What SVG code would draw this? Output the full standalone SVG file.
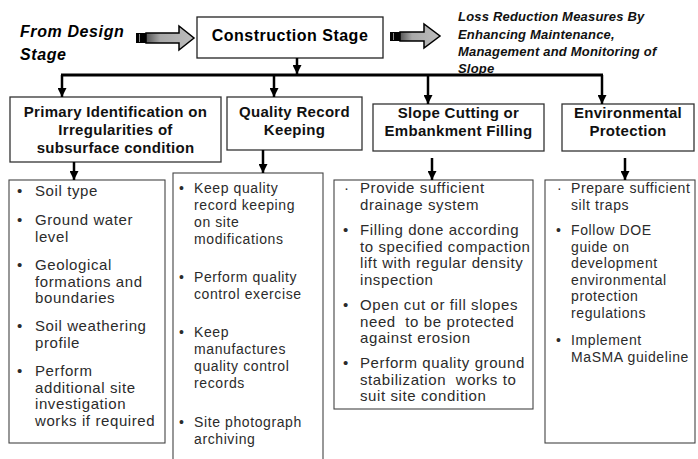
<svg xmlns="http://www.w3.org/2000/svg" width="698" height="459" viewBox="0 0 698 459">
<style>
text{font-family:"Liberation Sans",Arial,sans-serif;fill:#000}
.hdr{font-size:16px;font-weight:bold;font-style:italic;letter-spacing:0.6px}
.loss{font-size:13px;font-weight:bold;font-style:italic;letter-spacing:0.2px;fill:#111}
.main{font-size:16px;font-weight:bold;letter-spacing:0.5px}
.l2{font-size:15px;font-weight:bold;letter-spacing:0.3px;text-anchor:middle;fill:#111}
.b15 text{font-size:15px;letter-spacing:0.6px;fill:#2b2b2b}
.b14 text{font-size:14px;letter-spacing:0.6px;fill:#2b2b2b}
.box2{fill:#fff;stroke:#333;stroke-width:1.3}
.box3{fill:#fff;stroke:#444;stroke-width:1.1}
.conn line{stroke:#000;stroke-width:2.5}
</style>
<defs>
<marker id="ah" viewBox="0 0 10 10" refX="10" refY="5" markerWidth="9" markerHeight="9" markerUnits="userSpaceOnUse" orient="auto">
<path d="M0,0 L10,5 L0,10 z" fill="#000"/>
</marker>
<linearGradient id="gr" x1="0" y1="0" x2="1" y2="0">
<stop offset="0" stop-color="#555"/>
<stop offset="0.3" stop-color="#a8a8a8"/>
<stop offset="1" stop-color="#bdbdbd"/>
</linearGradient>
</defs>
<rect width="698" height="459" fill="#fff"/>

<g id="from-design">
<text class="hdr" x="20" y="37">From Design</text>
<text class="hdr" x="20" y="60">Stage</text>
</g>

<g id="block-arrow-left">
<path d="M146,33 L179,33 L179,26 L194,38 L179,50 L179,43 L146,43 z" fill="url(#gr)" stroke="#000" stroke-width="1.5"/>
<rect x="136" y="33" width="10" height="10" fill="#000"/>
<line x1="139.5" y1="34" x2="139.5" y2="42" stroke="#888" stroke-width="1"/>
</g>

<g id="construction">
<rect x="197" y="17" width="186" height="41" fill="#fff" stroke="#222" stroke-width="1.3"/>
<text class="main" x="290" y="41" text-anchor="middle">Construction Stage</text>
</g>

<g id="block-arrow-right">
<path d="M400,32 L424,32 L424,24 L440,36 L424,48 L424,41 L400,41 z" fill="url(#gr)" stroke="#000" stroke-width="1.5"/>
<rect x="390" y="32" width="10" height="9" fill="#000"/>
<line x1="393.5" y1="33" x2="393.5" y2="40" stroke="#888" stroke-width="1"/>
</g>

<g id="loss-reduction">
<text class="loss" x="458" y="21">Loss Reduction Measures By</text>
<text class="loss" x="458" y="38.5">Enhancing Maintenance,</text>
<text class="loss" x="458" y="56">Management and Monitoring of</text>
<text class="loss" x="458" y="72.5">Slope</text>
</g>

<g id="primary">
<rect class="box2" x="10" y="97" width="211" height="65"/>
<text class="l2" x="115.5" y="117">Primary Identification on</text>
<text class="l2" x="115.5" y="135">Irregularities of</text>
<text class="l2" x="115.5" y="153">subsurface condition</text>
</g>

<g id="quality">
<rect class="box2" x="227" y="97" width="135" height="53"/>
<text class="l2" x="294.5" y="117">Quality Record</text>
<text class="l2" x="294.5" y="135">Keeping</text>
</g>

<g id="slope">
<rect class="box2" x="373" y="104" width="171" height="47"/>
<text class="l2" x="458.5" y="118">Slope Cutting or</text>
<text class="l2" x="458.5" y="136">Embankment Filling</text>
</g>

<g id="environment">
<rect class="box2" x="562" y="104" width="132" height="47"/>
<text class="l2" x="628" y="118">Environmental</text>
<text class="l2" x="628" y="136">Protection</text>
</g>

<g id="list-primary">
<rect class="box3" x="9" y="180" width="156" height="263"/>
<g class="b15">
<text x="17" y="196">•</text><text x="35" y="196">Soil type</text>
<text x="17" y="225">•</text><text x="35" y="225">Ground water</text>
<text x="35" y="241.5">level</text>
<text x="17" y="270">•</text><text x="35" y="270">Geological</text>
<text x="35" y="286.5">formations and</text>
<text x="35" y="303">boundaries</text>
<text x="17" y="331">•</text><text x="35" y="331">Soil weathering</text>
<text x="35" y="347.5">profile</text>
<text x="17" y="376">•</text><text x="35" y="376">Perform</text>
<text x="35" y="392.5">additional site</text>
<text x="35" y="409">investigation</text>
<text x="35" y="425.5">works if required</text>
</g>
</g>

<g id="list-quality">
<rect class="box3" x="173" y="173" width="150" height="300"/>
<g class="b14">
<text x="179" y="193">•</text><text x="194" y="193">Keep quality</text>
<text x="194" y="210">record keeping</text>
<text x="194" y="227">on site</text>
<text x="194" y="244">modifications</text>
<text x="179" y="282">•</text><text x="194" y="282">Perform quality</text>
<text x="194" y="299">control exercise</text>
<text x="179" y="337">•</text><text x="194" y="337">Keep</text>
<text x="194" y="354">manufactures</text>
<text x="194" y="371">quality control</text>
<text x="194" y="388">records</text>
<text x="179" y="427">•</text><text x="194" y="427">Site photograph</text>
<text x="194" y="444">archiving</text>
</g>
</g>

<g id="list-slope">
<rect class="box3" x="334" y="180" width="199" height="229"/>
<g class="b15">
<text x="344" y="193">·</text><text x="360" y="193">Provide sufficient</text>
<text x="360" y="210">drainage system</text>
<text x="343" y="235">•</text><text x="360" y="235">Filling done according</text>
<text x="360" y="251.5">to specified compaction</text>
<text x="360" y="268">lift with regular density</text>
<text x="360" y="284.5">inspection</text>
<text x="343" y="310">•</text><text x="360" y="310">Open cut or fill slopes</text>
<text x="360" y="326.5" xml:space="preserve">need  to be protected</text>
<text x="360" y="343">against erosion</text>
<text x="343" y="368">•</text><text x="360" y="368">Perform quality ground</text>
<text x="360" y="384.5" xml:space="preserve">stabilization  works to</text>
<text x="360" y="401">suit site condition</text>
</g>
</g>

<g id="list-environment">
<rect class="box3" x="545" y="180" width="150" height="263"/>
<g class="b14">
<text x="557" y="193">·</text><text x="571" y="193">Prepare sufficient</text>
<text x="571" y="210">silt traps</text>
<text x="556" y="235">•</text><text x="571" y="235">Follow DOE</text>
<text x="571" y="251.5">guide on</text>
<text x="571" y="268">development</text>
<text x="571" y="284.5">environmental</text>
<text x="571" y="301">protection</text>
<text x="571" y="317.5">regulations</text>
<text x="556" y="345">•</text><text x="571" y="345">Implement</text>
<text x="571" y="361.5">MaSMA guideline</text>
</g>
</g>

<g id="connectors" class="conn">
<line x1="297" y1="58" x2="297" y2="74" marker-end="url(#ah)"/>
<line x1="61" y1="75" x2="603" y2="75" style="stroke-width:3"/>
<line x1="62" y1="75" x2="62" y2="97" marker-end="url(#ah)"/>
<line x1="274" y1="75" x2="274" y2="97" marker-end="url(#ah)"/>
<line x1="428" y1="75" x2="428" y2="104" marker-end="url(#ah)"/>
<line x1="602" y1="75" x2="602" y2="104" marker-end="url(#ah)"/>
<line x1="74" y1="162" x2="74" y2="180" marker-end="url(#ah)"/>
<line x1="263" y1="150" x2="263" y2="173" marker-end="url(#ah)"/>
<line x1="432" y1="158" x2="432" y2="180" marker-end="url(#ah)"/>
<line x1="625" y1="158" x2="625" y2="180" marker-end="url(#ah)"/>
</g>
</svg>
